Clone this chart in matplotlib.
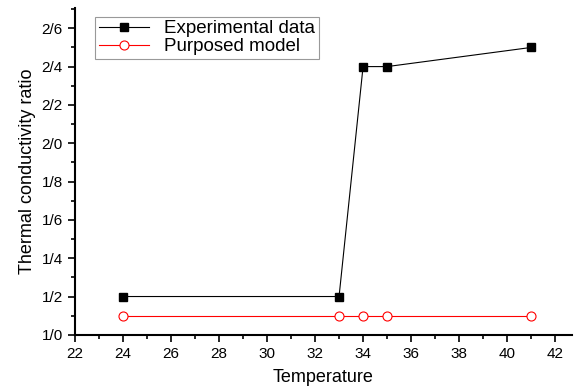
import matplotlib
matplotlib.use("Agg")
import matplotlib.pyplot as plt
from matplotlib.ticker import FuncFormatter, MultipleLocator

# data
temp = [24, 33, 34, 35, 41]
experimental = [1.2, 1.2, 2.4, 2.4, 2.5]
model = [1.1, 1.1, 1.1, 1.1, 1.1]

plt.rcParams['font.family'] = ['Liberation Sans', 'DejaVu Sans']

fig = plt.figure(figsize=(5.75, 3.88), dpi=100)
ax = fig.add_axes([0.130, 0.137, 0.865, 0.842])

ax.plot(temp, experimental, color='black', lw=0.8, marker='s', ms=6,
        mfc='black', mec='black', label='Experimental data')
ax.plot(temp, model, color='red', lw=0.8, marker='o', ms=6.5,
        mfc='white', mec='red', mew=0.8, label='Purposed model')

ax.set_xlim(22, 42.7)
ax.set_ylim(1.0, 2.705)
ax.xaxis.set_major_locator(MultipleLocator(2))
ax.xaxis.set_minor_locator(MultipleLocator(1))
ax.yaxis.set_major_locator(MultipleLocator(0.2))
ax.yaxis.set_minor_locator(MultipleLocator(0.1))
ax.yaxis.set_major_formatter(FuncFormatter(lambda v, p: ('%.1f' % v).replace('.', '/')))

for s in ['top', 'right']:
    ax.spines[s].set_visible(False)
for s in ['left', 'bottom']:
    ax.spines[s].set_linewidth(1.5)
ax.tick_params(which='major', direction='out', length=5, width=1.2, labelsize=11)
ax.tick_params(which='minor', direction='out', length=3, width=1.2)

ax.set_xlabel('Temperature', fontsize=13, labelpad=6)
ax.set_ylabel('Thermal conductivity ratio', fontsize=13)

leg = ax.legend(loc='upper left', bbox_to_anchor=(0.022, 1.003), fontsize=13.5,
                frameon=True, fancybox=False, edgecolor='gray',
                handlelength=2.7, borderpad=0.2, labelspacing=0.05)
leg.get_frame().set_linewidth(0.8)

fig.savefig('out.png', dpi=100)
